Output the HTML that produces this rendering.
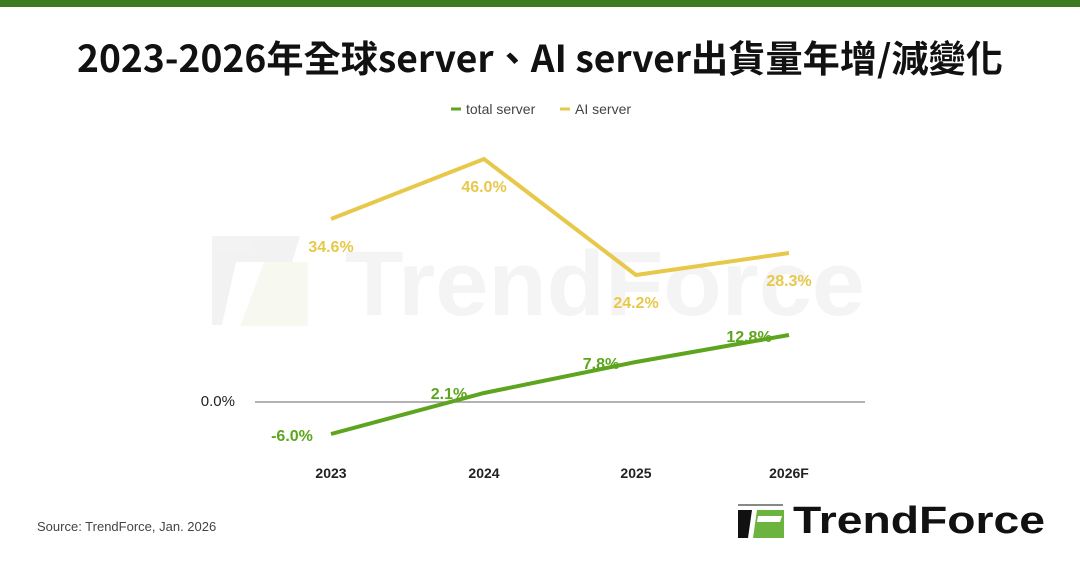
<!DOCTYPE html>
<html><head><meta charset="utf-8"><style>
body{margin:0;width:1080px;height:560px;background:#fff;overflow:hidden;font-family:"Liberation Sans","Noto Sans CJK TC",sans-serif}
</style></head><body>
<svg width="1080" height="560" viewBox="0 0 1080 560" xmlns="http://www.w3.org/2000/svg" font-family="Liberation Sans, Noto Sans CJK TC, sans-serif">
<rect x="0" y="0" width="1080" height="7" fill="#3d7a22"/>
<text x="540" y="72" text-anchor="middle" font-size="37" font-weight="bold" fill="#111" font-family="Noto Sans CJK TC, sans-serif" textLength="926" lengthAdjust="spacingAndGlyphs">2023-2026年全球server、AI server出貨量年增/減變化</text>
<!-- watermark -->
<g opacity="0.45">
<path d="M212 236 H300 L292 262 H236 L222 325 H212 Z" fill="#e4e4e4"/>
<path d="M264 262 H308 V326 H240 Z" fill="#eef3e2"/>
<text x="345" y="315" font-size="92" font-weight="bold" fill="#e8e8e8" textLength="520" lengthAdjust="spacingAndGlyphs">TrendForce</text>
</g>
<!-- legend -->
<line x1="451" y1="109" x2="461" y2="109" stroke="#5ea51f" stroke-width="3"/>
<text x="466" y="114" font-size="14" fill="#444">total server</text>
<line x1="560" y1="109" x2="570" y2="109" stroke="#e7c84a" stroke-width="3"/>
<text x="575" y="114" font-size="14" fill="#444">AI server</text>
<!-- axis -->
<line x1="255" y1="402" x2="865" y2="402" stroke="#999" stroke-width="1.5"/>
<text x="235" y="406" text-anchor="end" font-size="15" fill="#222">0.0%</text>
<g font-size="14" font-weight="bold" fill="#222" text-anchor="middle">
<text x="331" y="478">2023</text><text x="484" y="478">2024</text><text x="636" y="478">2025</text><text x="789" y="478">2026F</text>
</g>
<polyline points="331,219 484,159 636,275 789,253" fill="none" stroke="#e7c84a" stroke-width="4"/>
<polyline points="331,434 484,393 636,362 789,335" fill="none" stroke="#5ea51f" stroke-width="4"/>
<g font-size="16" font-weight="bold" fill="#e7c84a" text-anchor="middle">
<text x="331" y="252">34.6%</text><text x="484" y="192">46.0%</text><text x="636" y="308">24.2%</text><text x="789" y="286">28.3%</text>
</g>
<g font-size="16" font-weight="bold" fill="#5ea51f" text-anchor="middle">
<text x="292" y="441">-6.0%</text><text x="449" y="399">2.1%</text><text x="601" y="369">7.8%</text><text x="749" y="342">12.8%</text>
</g>
<text x="37" y="531" font-size="13" fill="#444">Source: TrendForce, Jan. 2026</text>
<!-- logo -->
<path d="M738 510 H752 L748 538 H738 Z" fill="#111"/>
<path d="M738 505 H783" stroke="#111" stroke-width="1"/>
<path d="M757 510 H784 V538 H753 Z" fill="#6db33f"/>
<path d="M758 516 H782 L780 522 H757 Z" fill="#fff"/>
<text x="793" y="533" font-size="38" font-weight="bold" fill="#111" textLength="252" lengthAdjust="spacingAndGlyphs">TrendForce</text>
</svg>
</body></html>
